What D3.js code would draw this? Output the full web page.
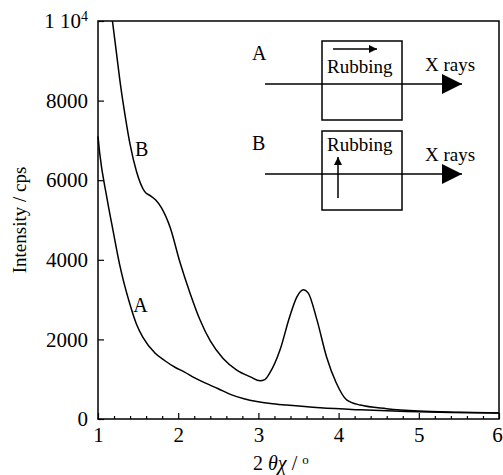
<!DOCTYPE html>
<html>
<head>
<meta charset="utf-8">
<script src="https://cdn.jsdelivr.net/npm/d3@7"></script>
<style>
  body { margin: 0; background: #fff; }
  svg text { font-family: "Liberation Serif", "Times New Roman", serif; fill: #000; }
</style>
</head>
<body>
<script>
// Curve A: rubbing parallel to the beam
const thetaA = [1.0, 1.02, 1.11, 1.19, 1.27, 1.40, 1.48, 1.56, 1.71, 1.83, 1.96, 2.08, 2.2, 2.32, 2.5, 2.65, 2.82, 2.98, 3.15, 3.35, 3.77, 4.27, 4.85, 5.4, 6.0];
const intensityA = [7100, 6700, 5570, 4710, 3880, 2870, 2380, 2050, 1660, 1470, 1300, 1180, 1040, 920, 760, 620, 510, 440, 390, 350, 280, 230, 190, 165, 150];

// Curve B: rubbing perpendicular to the beam
const thetaB = [1.18, 1.23, 1.28, 1.34, 1.40, 1.48, 1.58, 1.66, 1.72, 1.79, 1.90, 2.02, 2.15, 2.27, 2.40, 2.56, 2.73, 2.9, 3.02, 3.08, 3.14, 3.27, 3.39, 3.48, 3.56, 3.62, 3.73, 3.85, 3.97, 4.10, 4.27, 4.6, 5.0, 5.5, 6.0];
const intensityB = [10000, 9200, 8400, 7600, 6900, 6220, 5720, 5600, 5500, 5310, 4810, 3950, 3150, 2500, 1960, 1520, 1230, 1060, 960, 990, 1150, 1740, 2570, 3070, 3250, 3170, 2490, 1560, 910, 480, 350, 260, 200, 170, 150];

const xTicks = [1, 2, 3, 4, 5, 6];
const xMinorTicks = [1.2, 1.4, 1.6, 1.8, 2.2, 2.4, 2.6, 2.8, 3.2, 3.4, 3.6, 3.8, 4.2, 4.4, 4.6, 4.8, 5.2, 5.4, 5.6, 5.8];
const yTicks = [0, 2000, 4000, 6000, 8000, 10000];

const W = 503, H = 475;
const margin = { left: 98, top: 21, right: 4, bottom: 56 };
const iw = W - margin.left - margin.right;
const ih = H - margin.top - margin.bottom;

const svg = d3.select('body').append('svg')
  .attr('width', W)
  .attr('height', H);

const g = svg.append('g')
  .attr('transform', `translate(${margin.left},${margin.top})`);

const x = d3.scaleLinear().domain([1, 6]).range([0, iw]);
const y = d3.scaleLinear().domain([0, 10000]).range([ih, 0]);

// frame
g.append('rect')
  .attr('width', iw)
  .attr('height', ih)
  .attr('fill', 'none')
  .attr('stroke', '#000')
  .attr('stroke-width', 1.5);

// x axis, ticks pointing inward
const xAxis = g.append('g')
  .attr('transform', `translate(0,${ih})`)
  .call(d3.axisBottom(x).tickValues(xTicks).tickSize(-6).tickPadding(8).tickFormat(d3.format('d')));
xAxis.append('g')
  .call(d3.axisBottom(x).tickValues(xMinorTicks).tickSize(-3).tickFormat(''));

const yAxis = g.append('g')
  .call(d3.axisLeft(y).tickValues(yTicks).tickSize(-6).tickPadding(10)
    .tickFormat(d => d === 10000 ? '' : d));

[xAxis, yAxis].forEach(a => {
  a.selectAll('path.domain').remove();
  a.selectAll('line').attr('stroke', '#000').attr('stroke-width', 1.2);
  a.selectAll('text').style('font-size', '21px');
});
// last x label sits on the right edge
xAxis.selectAll('.tick').filter(d => d === 6).select('text').attr('text-anchor', 'end').attr('dx', '0.15em');

// "1 10^4" top label
const topLab = yAxis.selectAll('.tick').filter(d => d === 10000).select('text');
topLab.attr('x', -10).attr('dy', '0.32em');
topLab.append('tspan').text('1 10');
topLab.append('tspan').attr('dy', '-0.55em').style('font-size', '14px').text('4');

// curves
const line = d3.line()
  .x(d => x(d[0]))
  .y(d => y(d[1]))
  .curve(d3.curveMonotoneX);

g.append('path')
  .datum(d3.zip(thetaA, intensityA))
  .attr('d', line)
  .attr('fill', 'none')
  .attr('stroke', '#000')
  .attr('stroke-width', 1.5);

g.append('path')
  .datum(d3.zip(thetaB, intensityB))
  .attr('d', line)
  .attr('fill', 'none')
  .attr('stroke', '#000')
  .attr('stroke-width', 1.5);

// curve labels
g.append('text').attr('x', x(1.46)).attr('y', y(6600)).style('font-size', '20px').text('B');
g.append('text').attr('x', x(1.44)).attr('y', y(2700)).style('font-size', '20px').text('A');

// axis titles
svg.append('text')
  .attr('transform', `translate(26,220) rotate(-90)`)
  .attr('text-anchor', 'middle')
  .style('font-size', '19px')
  .text('Intensity / cps');

const xt = svg.append('text')
  .attr('x', 253)
  .attr('y', 470)
  .style('font-size', '20px');
xt.append('tspan').text('2 ');
xt.append('tspan').style('font-style', 'italic').text('θχ');
xt.append('tspan').text('  / ');
xt.append('tspan').attr('dy', '-0.5em').style('font-size', '13px').text('o');

// inset sketch of the geometry
const inset = svg.append('g');
const defs = svg.append('defs');
defs.append('marker')
  .attr('id', 'big')
  .attr('viewBox', '0 0 10 10')
  .attr('refX', 10).attr('refY', 5)
  .attr('markerUnits', 'userSpaceOnUse')
  .attr('markerWidth', 24).attr('markerHeight', 20)
  .attr('orient', 'auto')
  .append('path').attr('d', 'M0,0 L10,5 L0,10 Z').attr('fill', '#000');
defs.append('marker')
  .attr('id', 'small')
  .attr('viewBox', '0 0 10 10')
  .attr('refX', 10).attr('refY', 5)
  .attr('markerUnits', 'userSpaceOnUse')
  .attr('markerWidth', 10).attr('markerHeight', 8)
  .attr('orient', 'auto')
  .append('path').attr('d', 'M0,0 L10,5 L0,10 Z').attr('fill', '#000');

const panels = [
  { label: 'A', top: 41 },
  { label: 'B', top: 131 }
];
panels.forEach((p, i) => {
  inset.append('rect')
    .attr('x', 322).attr('y', p.top)
    .attr('width', 80).attr('height', 79)
    .attr('fill', 'none').attr('stroke', '#000').attr('stroke-width', 1.5);
  inset.append('line')
    .attr('x1', 265).attr('y1', p.top + 43)
    .attr('x2', 462).attr('y2', p.top + 43)
    .attr('stroke', '#000').attr('stroke-width', 1.5)
    .attr('marker-end', 'url(#big)');
  inset.append('text').attr('x', 252).attr('y', p.top + 19).style('font-size', '20px').text(p.label);
  inset.append('text').attr('x', 327).attr('y', p.top + (i ? 20 : 32)).style('font-size', '19px').text('Rubbing');
  inset.append('text').attr('x', 425).attr('y', p.top + 30).style('font-size', '19px').text('X rays');
});
// rubbing direction arrows
inset.append('line')
  .attr('x1', 333).attr('y1', 49).attr('x2', 377).attr('y2', 49)
  .attr('stroke', '#000').attr('stroke-width', 1.5).attr('marker-end', 'url(#small)');
inset.append('line')
  .attr('x1', 338).attr('y1', 198).attr('x2', 338).attr('y2', 157)
  .attr('stroke', '#000').attr('stroke-width', 1.5).attr('marker-end', 'url(#small)');
</script>
</body>
</html>
